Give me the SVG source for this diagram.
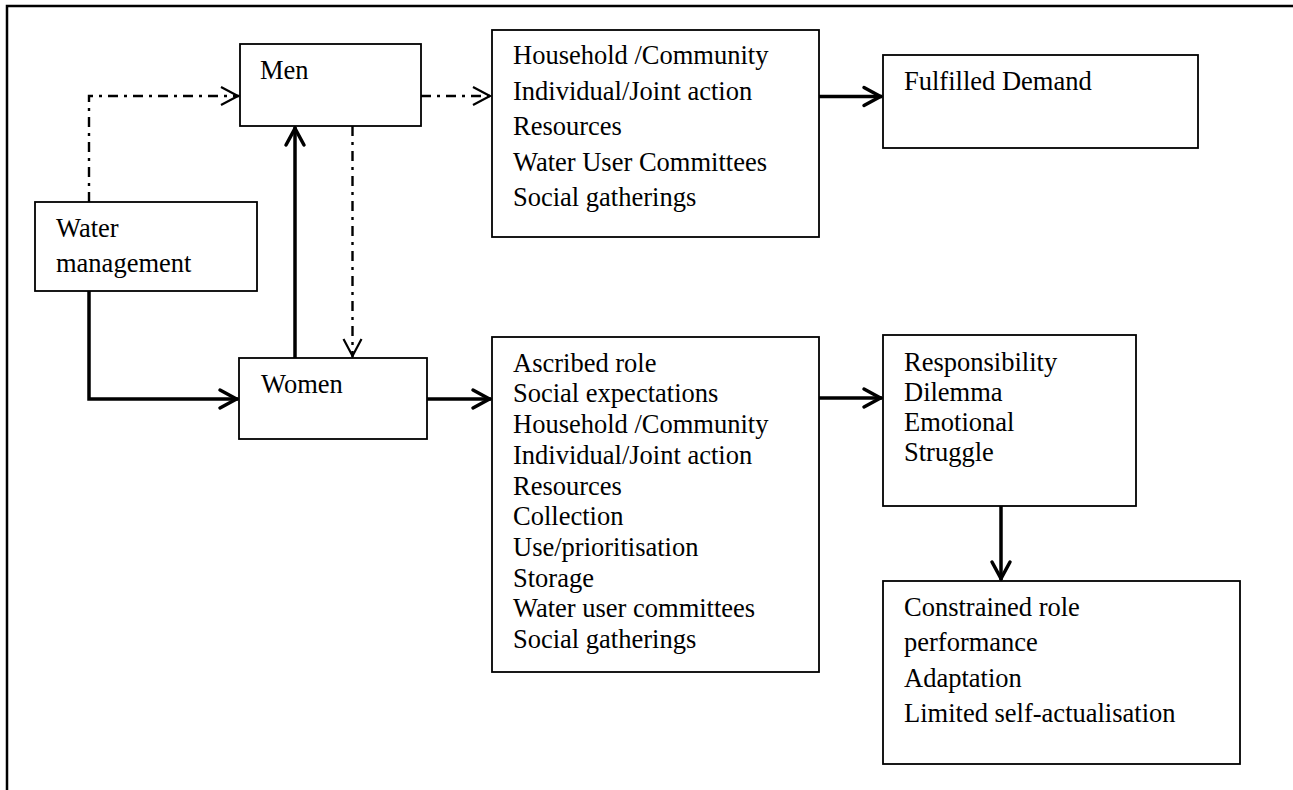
<svg xmlns="http://www.w3.org/2000/svg" width="1293" height="790" viewBox="0 0 1293 790">
<style>
.box{fill:#fff;stroke:#000;stroke-width:1.8}
.t{font-family:"Liberation Serif","Times New Roman",serif;font-size:26.5px;fill:#000}
.thick{fill:none;stroke:#000;stroke-width:3.5}
.dd{fill:none;stroke:#000;stroke-width:2.4;stroke-dasharray:10 6 3 6}
.frame{fill:none;stroke:#000;stroke-width:2.5}
</style>
<defs>
<marker id="ah" markerUnits="userSpaceOnUse" markerWidth="40" markerHeight="40" refX="0" refY="0" orient="auto" overflow="visible" viewBox="-20 -20 40 40">
<path d="M-18,-9 L-1.5,0 L-18,9" fill="none" stroke="#000" stroke-width="3.5" stroke-linecap="round"/>
</marker>
<marker id="ad" markerUnits="userSpaceOnUse" markerWidth="40" markerHeight="40" refX="0" refY="0" orient="auto" overflow="visible" viewBox="-20 -20 40 40">
<path d="M-18,-9 L-1,0 L-18,9" fill="none" stroke="#000" stroke-width="2.2"/>
</marker>
</defs>
<rect width="1293" height="790" fill="#fff"/>
<path class="frame" d="M7,790 V6 H1293"/>
<g id="connectors">
<path class="dd" d="M89,202 V96 H239" marker-end="url(#ad)"/>
<path class="dd" d="M421,96 H491" marker-end="url(#ad)"/>
<path class="dd" d="M352.5,126 V357" marker-end="url(#ad)"/>
<path class="thick" d="M89,291 V399 H238" marker-end="url(#ah)"/>
<path class="thick" d="M295,358 V127" marker-end="url(#ah)"/>
<path class="thick" d="M427,399 H491" marker-end="url(#ah)"/>
<path class="thick" d="M819,96.5 H882" marker-end="url(#ah)"/>
<path class="thick" d="M819,398 H882" marker-end="url(#ah)"/>
<path class="thick" d="M1001,506 V580" marker-end="url(#ah)"/>
</g>
<g id="men">
<rect class="box" x="240" y="44" width="181" height="82"/>
<text class="t" x="260" y="79">Men</text>
</g>
<g id="water-management">
<rect class="box" x="35" y="202" width="222" height="89"/>
<text class="t" x="56" y="237">Water</text>
<text class="t" x="56" y="272">management</text>
</g>
<g id="women">
<rect class="box" x="239" y="358" width="188" height="81"/>
<text class="t" x="261" y="393">Women</text>
</g>
<g id="men-factors">
<rect class="box" x="492" y="30" width="327" height="207"/>
<text class="t" x="513" y="64">Household /Community</text>
<text class="t" x="513" y="99.5">Individual/Joint action</text>
<text class="t" x="513" y="135">Resources</text>
<text class="t" x="513" y="170.5">Water User Committees</text>
<text class="t" x="513" y="206">Social gatherings</text>
</g>
<g id="fulfilled-demand">
<rect class="box" x="883" y="55" width="315" height="93"/>
<text class="t" x="904" y="90">Fulfilled Demand</text>
</g>
<g id="women-factors">
<rect class="box" x="492" y="337" width="327" height="335"/>
<text class="t" x="513" y="371.7">Ascribed role</text>
<text class="t" x="513" y="402.4">Social expectations</text>
<text class="t" x="513" y="433.1">Household /Community</text>
<text class="t" x="513" y="463.8">Individual/Joint action</text>
<text class="t" x="513" y="494.5">Resources</text>
<text class="t" x="513" y="525.2">Collection</text>
<text class="t" x="513" y="555.9">Use/prioritisation</text>
<text class="t" x="513" y="586.6">Storage</text>
<text class="t" x="513" y="617.3">Water user committees</text>
<text class="t" x="513" y="648">Social gatherings</text>
</g>
<g id="responsibility">
<rect class="box" x="883" y="335" width="253" height="171"/>
<text class="t" x="904" y="370.5">Responsibility</text>
<text class="t" x="904" y="400.8">Dilemma</text>
<text class="t" x="904" y="431">Emotional</text>
<text class="t" x="904" y="461.3">Struggle</text>
</g>
<g id="constrained">
<rect class="box" x="883" y="581" width="357" height="183"/>
<text class="t" x="904" y="616">Constrained role</text>
<text class="t" x="904" y="651.4">performance</text>
<text class="t" x="904" y="686.8">Adaptation</text>
<text class="t" x="904" y="722.2">Limited self-actualisation</text>
</g>
</svg>
